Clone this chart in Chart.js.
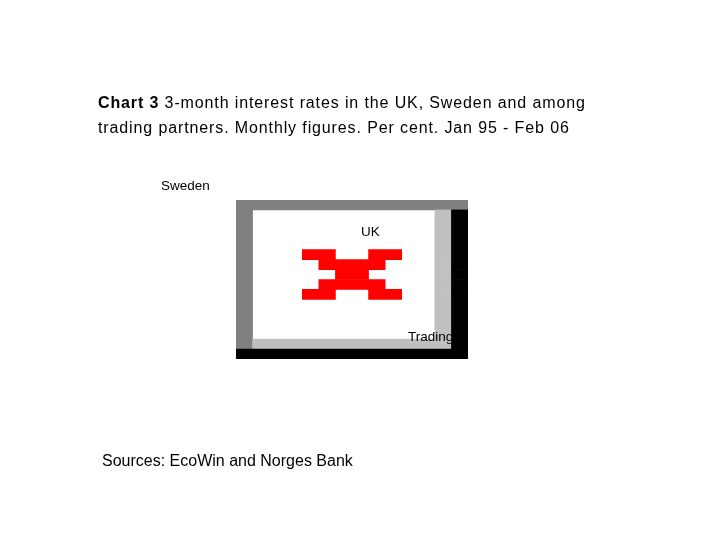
<!DOCTYPE html>
<html>
<head>
<meta charset="utf-8">
<script src="https://cdn.jsdelivr.net/npm/chart.js@4/dist/chart.umd.min.js"></script>
<style>
  html, body { margin: 0; padding: 0; background: #ffffff; }
  #wrap { position: relative; width: 720px; height: 540px; overflow: hidden; font-family: "Liberation Sans", Arial, sans-serif; color: #000; }
  #c { position: absolute; left: 0; top: 0; }
  .t { position: absolute; white-space: nowrap; }
  #title { left: 98px; top: 90px; font-size: 16px; line-height: 25px; letter-spacing: 0.88px; }
  #sources { left: 102px; top: 448px; font-size: 16px; line-height: 25px; }
  .lab { font-size: 13.5px; line-height: 15px; }
  #clipTrading { position: absolute; left: 400px; top: 320px; width: 51px; height: 30px; overflow: hidden; }
</style>
</head>
<body>
<div id="wrap">
  <canvas id="c" width="720" height="540"></canvas>
  <div id="title" class="t"><b>Chart 3</b> 3-month interest rates in the UK, Sweden and among<br>trading partners. Monthly figures. Per cent. Jan 95 - Feb 06</div>
  <div id="lblSweden" class="t lab" style="left:161px; top:178px;">Sweden</div>
  <div id="lblUK" class="t lab" style="left:361px; top:224px;">UK</div>
  <div id="clipTrading"><div class="t lab" style="left:8px; top:9px;">Trading partners</div></div>
  <div id="sources" class="t">Sources: EcoWin and Norges Bank</div>
</div>
<script>
// Picture rows (top to bottom) of the placeholder graphic
const rowLabels = ['r0','r1','r2','r3','r4','r5','r6','r7','r8','r9','r10','r11','r12','r13','r14','r15'];
// Floating segments [from, to] per row, in picture columns (0..14)
const darkGraySeg = [[0,14],[0,1],[0,1],[0,1],[0,1],[0,1],[0,1],[0,1],[0,1],[0,1],[0,1],[0,1],[0,1],[0,1],[0,1],null];
const lightGraySeg = [null,[12,13],[12,13],[12,13],[12,13],[12,13],[12,13],[12,13],[12,13],[12,13],[12,13],[12,13],[12,13],[12,13],[1,13],null];
const blackSeg = [null,[13,14],[13,14],[13,14],[13,14],[13,14],[13,14],[13,14],[13,14],[13,14],[13,14],[13,14],[13,14],[13,14],[13,14],[0,14]];
const redLeftSeg = [null,null,null,null,null,[4,6],[5,9],[6,8],[5,9],[4,6],null,null,null,null,null,null];
const redRightSeg = [null,null,null,null,null,[8,10],null,null,null,[8,10],null,null,null,null,null,null];
const columnRange = [0, 14];

function ds(data, color) {
  return { data: data, backgroundColor: color, borderWidth: 0, borderSkipped: false,
           barPercentage: 1, categoryPercentage: 1, grouped: false };
}

new Chart(document.getElementById('c'), {
  type: 'bar',
  data: {
    labels: rowLabels,
    datasets: [
      ds(redLeftSeg, '#ff0000'),
      ds(redRightSeg, '#ff0000'),
      ds(blackSeg, '#000000'),
      ds(lightGraySeg, '#c0c0c0'),
      ds(darkGraySeg, '#808080')
    ]
  },
  options: {
    indexAxis: 'y',
    responsive: false,
    animation: false,
    events: [],
    layout: { padding: { left: 236, right: 252, top: 200, bottom: 181 } },
    plugins: { legend: { display: false }, tooltip: { enabled: false }, title: { display: false } },
    scales: {
      x: { type: 'linear', min: columnRange[0], max: columnRange[1], display: false, grid: { display: false } },
      y: { type: 'category', display: false, offset: true, grid: { display: false } }
    }
  }
});
</script>
</body>
</html>
